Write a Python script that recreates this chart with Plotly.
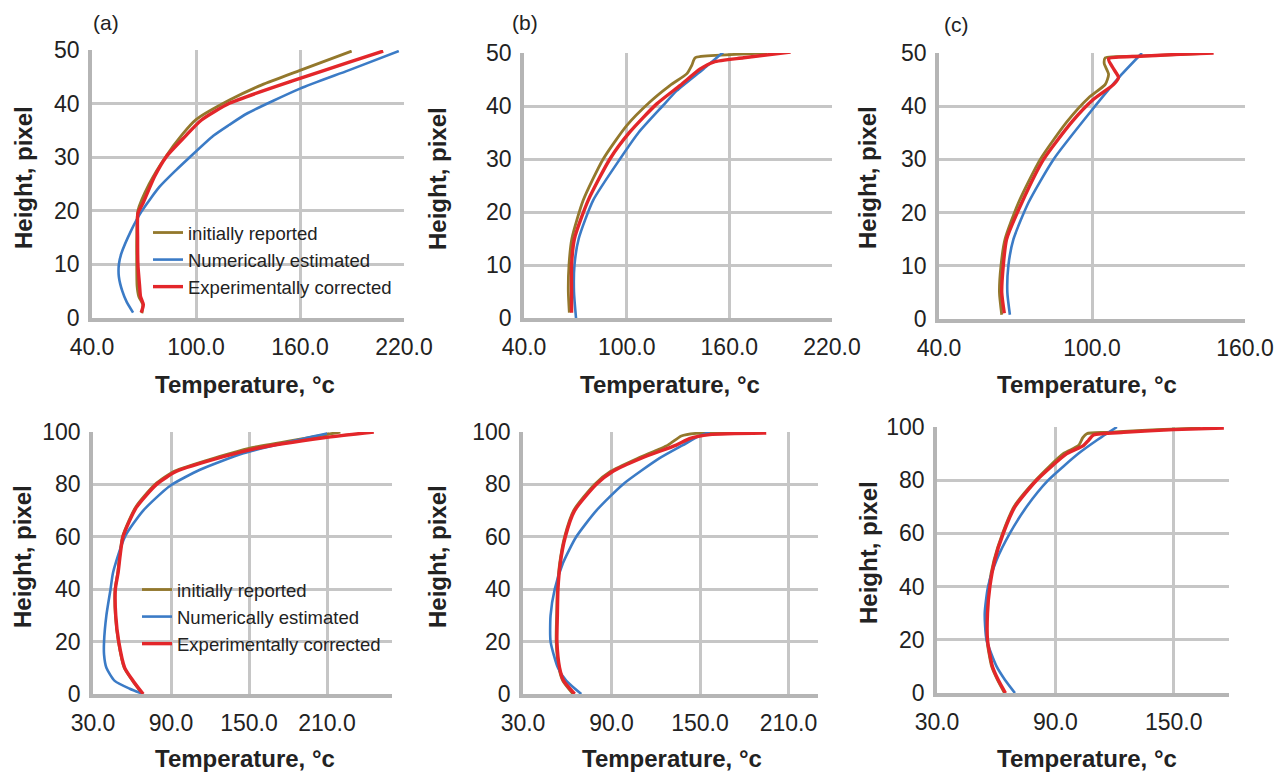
import plotly.graph_objects as go

# page is photographed at 1286x772; the html body adds an 8px margin,
# so the figure starts at (8, 8) and page pixels are shifted by 8.
PAGE_OFF = 8
W, H = 1286 - PAGE_OFF, 772 - PAGE_OFF


def fx(px):
    return (px - PAGE_OFF) / W


def fy(py):
    return 1 - (py - PAGE_OFF) / H


# ---------------- data (Temperature °C vs Height, pixel) ----------------
SERIES = ["initially reported", "Numerically estimated", "Experimentally corrected"]

# top row, panel (a)
ta_init_h = [0.9, 2.5, 4, 6, 10, 15, 20, 25, 30, 34.2, 37, 40.7, 43.5, 46.2, 49.8]
ta_init_t = [68.8, 69.3, 67, 66, 65.8, 65.8, 66.5, 73, 82.3, 92, 100, 119.6, 138, 160, 189.8]
ta_num_h = [1.0, 3, 5, 7.7, 10, 12, 16.4, 19.8, 24.5, 27.6, 30, 34, 36, 38.2, 42.8, 46.2, 49.8]
ta_num_t = [63.7, 60, 57.5, 55.5, 55.5, 56.9, 62.7, 68.4, 79, 88.5, 96.4, 110, 119, 129.7, 160, 188, 217]
ta_exp_h = [1.0, 2.5, 4, 5.8, 9.9, 15, 19.5, 21.4, 26.4, 30.1, 33.8, 36.9, 40.1, 44.7, 47.7, 49.8]
ta_exp_t = [68.4, 69.6, 68, 67.5, 66.5, 66.3, 66.5, 69.4, 76.1, 82.9, 93.5, 103, 119.6, 160, 188, 208]

# top row, panel (b)
tb_init_h = [1, 5, 10, 15, 22.2, 30, 36.3, 40.8, 43.9, 46.1, 47.7, 49.1, 49.6, 50]
tb_init_t = [66.5, 65.9, 66.3, 68, 74.6, 86.3, 100, 113.7, 125.4, 135.2, 138.1, 140, 155, 182]
tb_num_h = [0, 5, 10, 15, 22.2, 30, 35, 40, 42.9, 47, 50.2]
tb_num_t = [70.4, 69.2, 69.5, 72, 80.4, 96.1, 107, 121, 129.3, 144.9, 156.6]
tb_exp_h = [1, 5, 10, 15, 22.2, 30, 35.1, 40.4, 43.9, 47, 48.3, 49.1, 50.2]
tb_exp_t = [67.8, 67.8, 67.8, 69.5, 77.5, 90.2, 101.9, 117.6, 131.3, 143, 150.8, 168.4, 195.8]

# top row, panel (c)
tc_init_h = [0.8, 5, 10, 15, 21.9, 30, 37.1, 41.6, 44.1, 46, 48, 49.1, 49.4, 49.9]
tc_init_t = [64.6, 63.7, 64.3, 65.9, 71.2, 79.7, 90.2, 98.7, 105.2, 106.5, 104.8, 105.2, 118.9, 142.5]
tc_num_h = [0.8, 5, 10, 15, 21.9, 30, 39, 45.7, 50]
tc_num_t = [67.8, 66.8, 67.2, 69.2, 75.1, 84.9, 99.5, 111.1, 119.6]
tc_exp_h = [1.1, 5, 10, 15, 21.9, 30, 37.1, 41.3, 44.1, 45.4, 47, 48.9, 49.4, 50]
tc_exp_t = [65.6, 64.6, 65.2, 66.5, 72.5, 81, 92.2, 100.6, 108.5, 110.4, 108.5, 106.5, 118.9, 147.7]

# bottom row, panel (a)
ba_init_h = [0, 5, 10, 20, 30, 40, 46.3, 60, 71.3, 80, 85, 90.6, 93.8, 97.8, 100]
ba_init_t = [68, 60.5, 54, 49.5, 47.2, 47, 49, 52.7, 62.8, 77.8, 92.5, 127, 150, 195, 220.3]
ba_num_h = [0, 2, 5, 10, 15, 20, 30, 40, 46.3, 60, 70, 79.4, 85.6, 91.9, 96.3, 99.4]
ba_num_t = [68.6, 58.3, 46.7, 40.3, 38.5, 38.5, 40.3, 43.5, 45.4, 54.5, 68.6, 89.1, 112.3, 145.7, 181.7, 210]
ba_exp_h = [0, 5, 10, 20, 30, 40, 46.3, 60, 71.3, 80, 85, 90.6, 93.8, 97.8, 100]
ba_exp_t = [68.6, 60.9, 54.4, 49.8, 47.5, 47.2, 49.3, 53.1, 63.5, 78.9, 94.3, 130.3, 156, 207.4, 246]

# bottom row, panel (b)
bb_init_h = [0, 5, 10, 20, 30, 40, 50, 60, 70, 80, 85, 90, 95, 98.5, 99.5, 99.8]
bb_init_t = [63.9, 57, 54.3, 52.5, 52.8, 53.3, 54.9, 58.2, 64.3, 78.5, 89.5, 107.9, 128.2, 137.3, 147.4, 177.9]
bb_num_h = [0, 5, 10, 20, 30, 40, 50, 60, 70, 80, 90, 95, 98.5, 100]
bb_num_t = [69.5, 59.4, 53.7, 48.7, 48.7, 51.5, 57.1, 66.1, 79.7, 97.7, 122.6, 138.4, 149.7, 156.5]
bb_exp_h = [0, 5, 10, 20, 30, 40, 50, 60, 70, 80, 85, 90, 95, 97.5, 99, 99.6]
bb_exp_t = [65, 57.6, 54.8, 53, 53.3, 53.7, 55.3, 58.7, 65, 79.7, 91, 110.2, 133.9, 142.9, 156.5, 194.9]

# bottom row, panel (c)
bc_init_h = [0, 5, 10, 20, 30, 40, 50, 60, 70, 80, 90, 93, 96, 97.5, 98, 99, 99.6]
bc_init_t = [64.2, 60.6, 57.7, 55.3, 55.3, 56.3, 58.9, 63.2, 69, 80, 94, 101.7, 103.9, 105.9, 116.1, 141.5, 163.6]
bc_num_h = [0, 5, 10, 20, 30, 40, 50, 60, 70, 80, 90, 95, 100]
bc_num_t = [69.5, 64.4, 60.2, 55.1, 54.2, 55.9, 60.2, 66.9, 75.4, 86.4, 101.7, 111, 121.2]
bc_exp_h = [0, 5, 10, 20, 30, 40, 50, 60, 70, 80, 90, 93, 95, 97, 98, 99, 99.6]
bc_exp_t = [64.7, 61, 58.1, 55.6, 55.6, 56.8, 59.3, 63.6, 69.5, 80.5, 95.8, 104.2, 106.8, 109.3, 124.6, 150, 175.4]

# axis ticks
top_x_ticks = [40, 100, 160, 220]
top_c_x_ticks = [40, 100, 160]
bot_x_ticks = [30, 90, 150, 210]
bot_c_x_ticks = [30, 90, 150]
top_y_ticks = [0, 10, 20, 30, 40, 50]
bot_y_ticks = [0, 20, 40, 60, 80, 100]
panel_labels = ["(a)", "(b)", "(c)"]
x_title = "Temperature, °c"
y_title = "Height, pixel"

# ---------------- styling ----------------
COLORS = ["#93782c", "#3b7bc6", "#e3262a"]
WIDTHS = [2.8, 2.6, 3.4]
GRID = "#c6c6c6"
AXLINE = "#b5b5b5"
FONT = "Liberation Sans, Arial, sans-serif"
TXT = "#222222"

# panel geometry in page pixels: (x0, x1, ytop, ybottom)
panels = [
    dict(px=(92, 404, 50, 318), xr=[40, 220], xt=top_x_ticks, yr=[0, 50], yt=top_y_ticks,
         data=[(ta_init_t, ta_init_h), (ta_num_t, ta_num_h), (ta_exp_t, ta_exp_h)], legend="legend",
         xtitle=(245, 384), ytitle=(23, 178)),
    dict(px=(524, 832, 53, 318), xr=[40, 220], xt=top_x_ticks, yr=[0, 50], yt=top_y_ticks,
         data=[(tb_init_t, tb_init_h), (tb_num_t, tb_num_h), (tb_exp_t, tb_exp_h)], legend=None,
         xtitle=(670, 384), ytitle=(437, 179)),
    dict(px=(939, 1245, 53, 319), xr=[40, 160], xt=top_c_x_ticks, yr=[0, 50], yt=top_y_ticks,
         data=[(tc_init_t, tc_init_h), (tc_num_t, tc_num_h), (tc_exp_t, tc_exp_h)], legend=None,
         xtitle=(1087, 384), ytitle=(867, 178)),
    dict(px=(93, 392, 432, 694), xr=[30, 260], xt=bot_x_ticks, yr=[0, 100], yt=bot_y_ticks,
         data=[(ba_init_t, ba_init_h), (ba_num_t, ba_num_h), (ba_exp_t, ba_exp_h)], legend="legend2",
         xtitle=(245, 758), ytitle=(22, 557)),
    dict(px=(523, 818, 432, 694), xr=[30, 230], xt=bot_x_ticks, yr=[0, 100], yt=bot_y_ticks,
         data=[(bb_init_t, bb_init_h), (bb_num_t, bb_num_h), (bb_exp_t, bb_exp_h)], legend=None,
         xtitle=(672, 758), ytitle=(437, 557)),
    dict(px=(937, 1229, 427, 693), xr=[30, 178], xt=bot_c_x_ticks, yr=[0, 100], yt=bot_y_ticks,
         data=[(bc_init_t, bc_init_h), (bc_num_t, bc_num_h), (bc_exp_t, bc_exp_h)], legend=None,
         xtitle=(1087, 758), ytitle=(868, 553)),
]

fig = go.Figure()
layout = dict(
    width=W, height=H, margin=dict(l=0, r=0, t=0, b=0, autoexpand=False),
    paper_bgcolor="white", plot_bgcolor="white",
    font=dict(family=FONT, color=TXT),
    annotations=[],
)

for i, p in enumerate(panels):
    n = "" if i == 0 else str(i + 1)
    x0, x1, yt, yb = p["px"]
    layout["xaxis" + n] = dict(
        domain=[fx(x0), fx(x1)], range=p["xr"], anchor="y" + n, automargin=False,
        tickvals=p["xt"], ticktext=[f"{v:.1f}" for v in p["xt"]],
        showgrid=True, gridcolor=GRID, gridwidth=2.5,
        showline=True, linecolor=AXLINE, linewidth=3.5,
        zeroline=False, ticks="", ticklabelstandoff=6,
        tickfont=dict(size=23, color=TXT),
    )
    layout["yaxis" + n] = dict(
        domain=[fy(yb), fy(yt)], range=p["yr"], anchor="x" + n, automargin=False,
        tickvals=p["yt"],
        showgrid=True, gridcolor=GRID, gridwidth=2.5,
        showline=True, linecolor=AXLINE, linewidth=3.5,
        zeroline=False, ticks="", ticklabelstandoff=4,
        tickfont=dict(size=23, color=TXT),
    )
    for k, (tx, hy) in enumerate(p["data"]):
        tr = dict(
            x=tx, y=hy, mode="lines", name=SERIES[k],
            line=dict(color=COLORS[k], width=WIDTHS[k], shape="spline", smoothing=0.6),
            xaxis="x" + n, yaxis="y" + n, hoverinfo="x+y+name",
        )
        if p["legend"]:
            tr["legend"] = p["legend"]
            tr["showlegend"] = True
        else:
            tr["showlegend"] = False
        fig.add_trace(go.Scatter(**tr))
    # axis titles
    xtx, xty = p["xtitle"]
    layout["annotations"].append(dict(
        text=f"<b>{x_title}</b>", x=fx(xtx), y=fy(xty), xref="paper", yref="paper",
        showarrow=False, font=dict(size=24, color=TXT), xanchor="center", yanchor="middle"))
    ytx, yty = p["ytitle"]
    layout["annotations"].append(dict(
        text=f"<b>{y_title}</b>", x=fx(ytx), y=fy(yty), xref="paper", yref="paper",
        showarrow=False, textangle=-90, font=dict(size=24, color=TXT),
        xanchor="center", yanchor="middle"))

# panel labels
for lab, (lx, ly) in zip(panel_labels, [(106, 22), (525, 22), (957, 24)]):
    layout["annotations"].append(dict(
        text=lab, x=fx(lx), y=fy(ly), xref="paper", yref="paper", showarrow=False,
        font=dict(size=21, color=TXT), xanchor="center", yanchor="middle"))

legend_style = dict(
    bgcolor="rgba(255,255,255,0)", borderwidth=0, font=dict(size=18.5, color=TXT),
    itemwidth=30, tracegroupgap=0, xanchor="left", yanchor="top", traceorder="normal",
)
layout["legend"] = dict(x=fx(148), y=fy(214), **legend_style)
layout["legend2"] = dict(x=fx(137), y=fy(571), **legend_style)

fig.update_layout(**layout)
fig.write_html("out.html")
